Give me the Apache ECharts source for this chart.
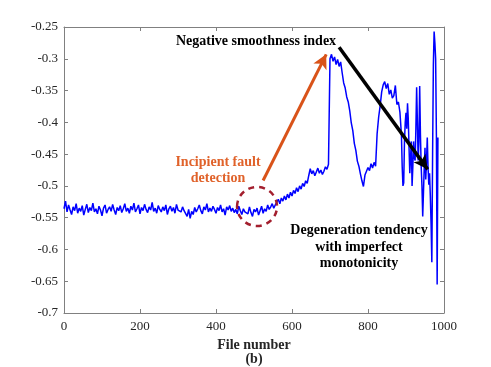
<!DOCTYPE html>
<html>
<head>
<meta charset="utf-8">
<title>Negative smoothness index</title>
<script src="https://cdn.jsdelivr.net/npm/echarts@6/dist/echarts.min.js"></script>
<style>
    html, body { margin: 0; padding: 0; background: #fff; }
    #main { width: 491px; height: 367px; }
</style>
</head>
<body>
<div id="main"></div>
<script>
// file numbers 0..556, every 4th file
var steadyStart = 0;
var steady = [
    -0.536,-0.524,-0.541,-0.530,-0.538,-0.545,-0.533,-0.539,-0.528,-0.543,
    -0.535,-0.540,-0.531,-0.546,-0.537,-0.529,-0.542,-0.534,-0.539,-0.527,
    -0.541,-0.536,-0.544,-0.532,-0.538,-0.547,-0.535,-0.530,-0.543,-0.537,
    -0.533,-0.540,-0.529,-0.538,-0.545,-0.534,-0.539,-0.531,-0.542,-0.536,
    -0.528,-0.540,-0.535,-0.543,-0.532,-0.538,-0.527,-0.541,-0.536,-0.530,
    -0.544,-0.534,-0.539,-0.529,-0.537,-0.542,-0.533,-0.538,-0.526,-0.540,
    -0.535,-0.543,-0.531,-0.537,-0.541,-0.533,-0.539,-0.530,-0.545,-0.536,
    -0.532,-0.540,-0.534,-0.543,-0.529,-0.538,-0.535,-0.541,-0.533,-0.539,
    -0.542,-0.548,-0.537,-0.551,-0.540,-0.545,-0.534,-0.541,-0.536,-0.530,
    -0.539,-0.544,-0.533,-0.538,-0.528,-0.541,-0.535,-0.540,-0.532,-0.537,
    -0.543,-0.534,-0.539,-0.530,-0.541,-0.536,-0.546,-0.533,-0.538,-0.531,
    -0.540,-0.535,-0.542,-0.537,-0.544,-0.532,-0.539,-0.545,-0.536,-0.541,
    -0.538,-0.544,-0.533,-0.542,-0.548,-0.537,-0.541,-0.535,-0.546,-0.539,
    -0.532,-0.543,-0.536,-0.540,-0.530,-0.537,-0.533,-0.528,-0.535,-0.530
];
// files 560..696, every 4th file
var riseStart = 560;
var rise = [
    -0.527,-0.521,-0.528,-0.519,-0.524,-0.516,-0.522,-0.513,-0.519,-0.510,
    -0.516,-0.507,-0.512,-0.503,-0.509,-0.500,-0.505,-0.496,-0.501,-0.492,
    -0.496,-0.484,
    -0.473,-0.481,-0.476,-0.484,-0.478,-0.472,-0.480,-0.475,-0.482,-0.477,
    -0.470,-0.474,-0.466
];
// files 700..884, every 4th file
var peakStart = 700;
var peak = [
    -0.300,-0.293,-0.304,-0.297,-0.309,-0.301,-0.312,-0.305,-0.322,
    -0.338,-0.346,-0.360,-0.368,-0.382,-0.401,-0.413,-0.433,-0.444,-0.461,
    -0.469,-0.481,-0.492,-0.501,
    -0.483,-0.477,-0.471,-0.476,-0.465,-0.472,-0.463,-0.469,
    -0.418,-0.392,-0.374,-0.352,-0.341,-0.336,-0.347,-0.339,-0.356,-0.349,
    -0.362,-0.358,-0.342,-0.372,-0.368,-0.384
];
// files 886..984, every 2nd file
var tailStart = 886;
var tail = [
    -0.385,-0.420,-0.470,-0.500,-0.495,-0.430,-0.400,-0.385,
    -0.410,-0.370,-0.395,-0.440,-0.480,-0.455,-0.430,-0.500,-0.470,-0.430,
    -0.455,-0.460,-0.410,-0.345,-0.400,-0.460,-0.430,-0.343,-0.420,-0.470,
    -0.500,-0.548,-0.510,-0.470,-0.440,-0.490,-0.460,-0.424,-0.470,-0.498,
    -0.480,-0.515,-0.560,-0.620,-0.450,-0.310,-0.257,-0.275,-0.300,-0.420,
    -0.655,-0.424
];

var xTicks = [0, 200, 400, 600, 800, 1000];
var yMin = -0.7, yMax = -0.25, yStep = 0.05;

function seg(start, step, vals) {
    return vals.map(function (v, i) { return [start + i * step, v]; });
}
var lineData = [].concat(
    seg(steadyStart, 4, steady),
    seg(riseStart, 4, rise),
    seg(peakStart, 4, peak),
    seg(tailStart, 2, tail)
);

var serif = '"Liberation Serif", "DejaVu Serif", serif';
var axisGray = '#808080';
var textDark = '#262626';

function axisBase(pos, showLabel) {
    return {
        type: 'value',
        position: pos,
        axisLine: { show: true, onZero: false, lineStyle: { color: axisGray, width: 1 } },
        axisTick: { show: true, inside: true, length: 4, lineStyle: { color: axisGray } },
        axisLabel: {
            show: showLabel, color: textDark, fontFamily: serif, fontSize: 13,
            formatter: function (v) { return parseFloat(v.toFixed(2)).toString(); }
        },
        splitLine: { show: false }
    };
}

var xBottom = axisBase('bottom', true);
xBottom.min = xTicks[0]; xBottom.max = xTicks[xTicks.length - 1]; xBottom.interval = 200;
xBottom.axisLabel.margin = 7;
xBottom.name = 'File number';
xBottom.nameLocation = 'middle';
xBottom.nameGap = 23;
xBottom.nameTextStyle = { fontFamily: serif, fontWeight: 'bold', fontSize: 14, color: textDark };
var xTop = axisBase('top', false);
xTop.min = 0; xTop.max = 1000; xTop.interval = 200;

var yLeft = axisBase('left', true);
yLeft.min = yMin; yLeft.max = yMax; yLeft.interval = yStep;
yLeft.axisLabel.margin = 6;
var yRight = axisBase('right', false);
yRight.min = yMin; yRight.max = yMax; yRight.interval = yStep;

var myChart = echarts.init(document.getElementById('main'));
var option = {
    animation: false,
    backgroundColor: '#fff',
    grid: { left: 64, right: 47, top: 27, bottom: 54 },
    xAxis: [xBottom, xTop],
    yAxis: [yLeft, yRight],
    series: [{
        type: 'line',
        data: lineData,
        showSymbol: false,
        lineStyle: { color: '#0000ff', width: 1.5 },
        markLine: {
            silent: true,
            symbol: ['none', 'arrow'],
            symbolSize: [11, 14],
            label: { show: false },
            data: [
                [{ coord: [524, -0.4915], lineStyle: { color: '#d95319', width: 3, type: 'solid' } },
                 { coord: [690, -0.293] }],
                [{ coord: [724, -0.282], lineStyle: { color: '#000', width: 3.5, type: 'solid' } },
                 { coord: [957, -0.474] }]
            ]
        }
    }]
};
myChart.setOption(option);

var c = myChart.convertToPixel({ gridIndex: 0 }, [508, -0.5324]);
myChart.setOption({
    graphic: [
        { type: 'ellipse', shape: { cx: c[0], cy: c[1], rx: 20, ry: 19.5 },
          style: { fill: 'none', stroke: '#a31f2e', lineWidth: 2.5, lineDash: [6, 5] }, z: 10 },
        { type: 'text', x: 256, y: 41,
          style: { text: 'Negative smoothness index', fontFamily: serif, fontWeight: 'bold', fontSize: 14,
                   fill: '#000', align: 'center', verticalAlign: 'middle' } },
        { type: 'text', x: 218, y: 170,
          style: { text: 'Incipient fault\ndetection', fontFamily: serif, fontWeight: 'bold', fontSize: 14,
                   lineHeight: 16, fill: '#e0622a', align: 'center', verticalAlign: 'middle' } },
        { type: 'text', x: 359, y: 247,
          style: { text: 'Degeneration tendency\nwith imperfect\nmonotonicity', fontFamily: serif,
                   fontWeight: 'bold', fontSize: 14, lineHeight: 16.5, fill: '#000',
                   align: 'center', verticalAlign: 'middle' } },
        { type: 'text', x: 254, y: 359,
          style: { text: '(b)', fontFamily: serif, fontWeight: 'bold', fontSize: 14,
                   fill: textDark, align: 'center', verticalAlign: 'middle' } }
    ]
});
</script>
</body>
</html>
